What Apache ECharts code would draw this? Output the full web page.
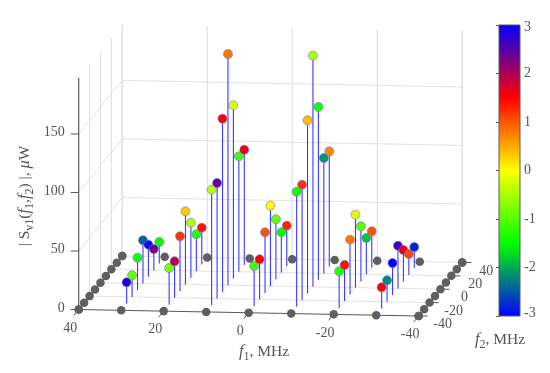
<!DOCTYPE html>
<html><head><meta charset="utf-8">
<style>html,body{margin:0;padding:0;background:#fff}#c{width:550px;height:373px}</style>
<script src="https://cdn.jsdelivr.net/npm/echarts@6/dist/echarts.min.js"></script>
</head><body><div id="c"></div>
<script>
// ---- data ----
const f1Levels = [30, 20, 10, 0, -10, -20, -30];
const f2Levels = [-30, -20, -10, 0, 10, 20, 30];
const edgeGrid = [40, 30, 20, 10, 0, -10, -20, -30, -40];
const f1Ticks = [40, 20, 0, -20, -40];
const f2Ticks = [-40, -20, 0, 20, 40];
const zTicks = [0, 50, 100, 150];
const zTop = 198;

const magnitudes = [
  [18.2, 18.5, 27.8, 37.0, 27.5, 18.1, 18.4],
  [31.1, 31.1, 46.8, 62.4, 47.0, 31.4, 31.3],
  [98.8, 98.8, 148.0, 197.6, 148.0, 98.7, 98.6],
  [34.2, 34.2, 51.6, 68.6, 51.3, 34.4, 34.4],
  [98.4, 98.7, 148.0, 197.5, 148.0, 98.6, 98.6],
  [31.1, 30.8, 46.7, 62.3, 46.7, 31.0, 31.0],
  [18.1, 18.4, 27.4, 36.5, 27.1, 18.0, 18.2]
];
const phases = [
  [2.8, -0.9, -1.4, -2.4, -2.9, 2.3, -1.5],
  [-0.8, 1.9, 1.2, 0.3, -0.5, -1.3, 1.4],
  [-0.4, 2.4, 1.5, 0.8, -0.2, -1.1, 1.6],
  [-1.1, 1.5, 1.0, 0.0, -0.9, -1.5, 1.3],
  [-1.4, 1.2, 0.4, -0.5, -1.4, -2.1, 0.7],
  [-1.3, 1.4, 0.8, -0.2, -1.0, -1.8, 1.0],
  [1.5, -2.2, -3.0, 2.6, 1.6, 1.1, -2.8]
];
const phaseColors = ['#0000ff', '#00ff00', '#ffff00', '#ff0000', '#0000ff'];

// ---- oblique view of the 3-D axes ----
const view = { x0: 78.7, y0: 309.5, xF1: 4.25, yF1: 0.081, xF2: 0.544, yF2: -0.669, yZ: -1.17 };
function project(f1, f2, z) {
  const a = 40 - f1, b = f2 + 40;
  return [view.x0 + view.xF1 * a + view.xF2 * b,
          view.y0 + view.yF1 * a + view.yF2 * b + view.yZ * z];
}

// ---- derived tables ----
const stems = [], markers = [];
f1Levels.forEach((f1, i) => f2Levels.forEach((f2, j) => {
  const s = magnitudes[i][j];
  const top = project(f1, f2, s);
  stems.push([...project(f1, f2, 0), ...top]);
  markers.push([top[0], top[1], phases[i][j]]);
}));
const zeroDots = [];
edgeGrid.forEach(f1 => { zeroDots.push(project(f1, -40, 0)); zeroDots.push(project(f1, 40, 0)); });
edgeGrid.forEach(f2 => { zeroDots.push(project(40, f2, 0)); zeroDots.push(project(-40, f2, 0)); });

const GRID = '#e2e2e2', AXIS = '#5a5a5a', TXT = '#555', FONT = '"Liberation Serif", serif';
const frame = [];
function seg(p, q, color, w, dx, dy) {
  const a = project(...p), b = project(...q);
  frame.push([a[0], a[1], dx === undefined ? b[0] : a[0] + dx, dy === undefined ? b[1] : a[1] + dy, color, w]);
}
// floor + walls
[20, 0, -20].forEach(f1 => {
  seg([f1, -40, 0], [f1, 40, 0], GRID, 1);
  seg([f1, 40, 0], [f1, 40, zTop], GRID, 1.2);
});
[-20, 0, 20, 40].forEach(f2 => {
  seg([40, f2, 0], [-40, f2, 0], GRID, 1);
  seg([40, f2, 0], [40, f2, zTop], GRID, f2 === 40 ? 1.8 : 1.2);
});
seg([-40, 40, 0], [-40, 40, zTop], GRID, 1.8);
[50, 100, 150].forEach(z => {
  seg([40, -40, z], [40, 40, z], GRID, 1);
  seg([40, 40, z], [-40, 40, z], GRID, 1);
});
// box axes
seg([40, -40, 0], [-40, -40, 0], AXIS, 1.2);
seg([40, -40, 0], [40, 40, 0], AXIS, 1.2);
seg([-40, -40, 0], [-40, 40, 0], AXIS, 1.2);
seg([40, -40, 0], [40, -40, zTop], AXIS, 1.2);
zTicks.forEach(z => seg([40, -40, z], [40, -40, z], AXIS, 1, -8, 0));
f1Ticks.forEach(f1 => seg([f1, -40, 0], [f1, -40, 0], AXIS, 1, -5, 6));
f2Ticks.forEach(f2 => seg([-40, f2, 0], [-40, f2, 0], AXIS, 1, 9, 0));

const tickText = [];
function lab(text, pos, dx, dy, align) { tickText.push([pos[0] + dx, pos[1] + dy, text, align]); }
zTicks.forEach(z => lab(String(z), project(40, -40, z), -14, -1.5, 'right'));
f1Ticks.forEach(f1 => lab(String(f1), project(f1, -40, 0), -8.5, 18.5, 'center'));
f2Ticks.forEach(f2 => lab(String(f2), project(-40, f2, 0), 24, 8.5, 'center'));

const rich = {
  n: { fontFamily: FONT, fontSize: 15.5, fill: TXT, color: TXT, lineHeight: 18 },
  i: { fontFamily: FONT, fontSize: 16.5, fontStyle: 'italic', fill: TXT, color: TXT, lineHeight: 18 },
  s: { fontFamily: FONT, fontSize: 12, fill: TXT, color: TXT, lineHeight: 10, padding: [9, 0, 0, 0] }
};

const chart = echarts.init(document.getElementById('c'), null, { renderer: 'canvas' });
chart.setOption({
  animation: false,
  backgroundColor: '#fff',
  grid: [
    { left: 0, top: 0, right: 0, bottom: 0 },
    { left: 499, top: 25, width: 21, height: 291 }
  ],
  xAxis: [
    { gridIndex: 0, type: 'value', min: 0, max: 550, show: false },
    { gridIndex: 1, type: 'value', min: 0, max: 1, show: false }
  ],
  yAxis: [
    { gridIndex: 0, type: 'value', min: 0, max: 373, inverse: true, show: false },
    { gridIndex: 1, type: 'value', min: -3, max: 3, interval: 1, position: 'right',
      axisLine: { show: true, lineStyle: { color: AXIS, width: 1 } },
      axisTick: { show: true, inside: true, length: 3, lineStyle: { color: AXIS } },
      splitLine: { show: false },
      axisLabel: { margin: 4, color: TXT, fontFamily: FONT, fontSize: 14,
        formatter: v => v === 3 ? '{top|3}' : v === -3 ? '{bot|-3}' : String(v),
        rich: {
          top: { fontFamily: FONT, fontSize: 14, color: TXT, padding: [5, 0, 0, 0] },
          bot: { fontFamily: FONT, fontSize: 14, color: TXT, padding: [0, 0, 5, 0] }
        } } }
  ],
  visualMap: { show: false, type: 'continuous', seriesIndex: 2, dimension: 2, min: -3, max: 3,
    inRange: { color: phaseColors } },
  series: [
    { type: 'custom', name: 'frame', xAxisIndex: 0, yAxisIndex: 0, silent: true, clip: false, z: 1,
      data: frame,
      renderItem(p, api) {
        const a = api.coord([api.value(0), api.value(1)]), b = api.coord([api.value(2), api.value(3)]);
        const d = frame[p.dataIndex];
        return { type: 'line', shape: { x1: a[0], y1: a[1], x2: b[0], y2: b[1] },
          style: { stroke: d[4], lineWidth: d[5] } };
      } },
    { type: 'custom', name: 'stems', xAxisIndex: 0, yAxisIndex: 0, silent: true, clip: false, z: 3,
      data: stems,
      renderItem(p, api) {
        const a = api.coord([api.value(0), api.value(1)]), b = api.coord([api.value(2), api.value(3)]);
        return { type: 'line', shape: { x1: a[0], y1: a[1], x2: b[0], y2: b[1] },
          style: { stroke: '#3a3aff', lineWidth: 1.1 } };
      } },
    { type: 'scatter', name: 'S', xAxisIndex: 0, yAxisIndex: 0, z: 4, symbolSize: 9, data: markers,
      itemStyle: { opacity: 1, borderColor: 'rgba(110,110,210,0.75)', borderWidth: 0.8 } },
    { type: 'scatter', name: 'zero', xAxisIndex: 0, yAxisIndex: 0, z: 2, symbolSize: 8.5, data: zeroDots,
      itemStyle: { color: '#5f5f5f', opacity: 1 } },
    { type: 'custom', name: 'ticks', xAxisIndex: 0, yAxisIndex: 0, silent: true, clip: false, z: 5,
      data: tickText,
      renderItem(p, api) {
        const a = api.coord([api.value(0), api.value(1)]);
        const d = tickText[p.dataIndex];
        return { type: 'text', x: a[0], y: a[1],
          style: { text: d[2], fill: TXT, align: d[3], verticalAlign: 'middle',
            font: '14px ' + FONT } };
      } },
    { type: 'custom', name: 'colorbar', xAxisIndex: 1, yAxisIndex: 1, silent: true, clip: false, z: 1,
      data: [[0, -3, 1, 3]],
      renderItem(p, api) {
        const a = api.coord([api.value(0), api.value(3)]), b = api.coord([api.value(2), api.value(1)]);
        return { type: 'rect', shape: { x: a[0], y: a[1], width: b[0] - a[0], height: b[1] - a[1] },
          style: { stroke: AXIS, lineWidth: 1,
            fill: new echarts.graphic.LinearGradient(0, 1, 0, 0,
              phaseColors.map((c, i) => ({ offset: i / (phaseColors.length - 1), color: c }))) } };
      } }
  ],
  graphic: [
    { type: 'text', x: 264, y: 352, z: 10, style: { text: '{i|f}{s|1}{n|, MHz}', rich, align: 'center', verticalAlign: 'middle' } },
    { type: 'text', x: 500, y: 340, z: 10, style: { text: '{i|f}{s|2}{n|, MHz}', rich, align: 'center', verticalAlign: 'middle' } },
    { type: 'text', x: 25, y: 196, rotation: Math.PI / 2, z: 10,
      style: { text: '{n|| S}{s|v1}{n|(}{i|f}{s|1}{n|,}{i|f}{s|2}{n|) |, }{i|\u03bc}{n|W}', rich, align: 'center', verticalAlign: 'middle' } }
  ]
});
</script></body></html>
